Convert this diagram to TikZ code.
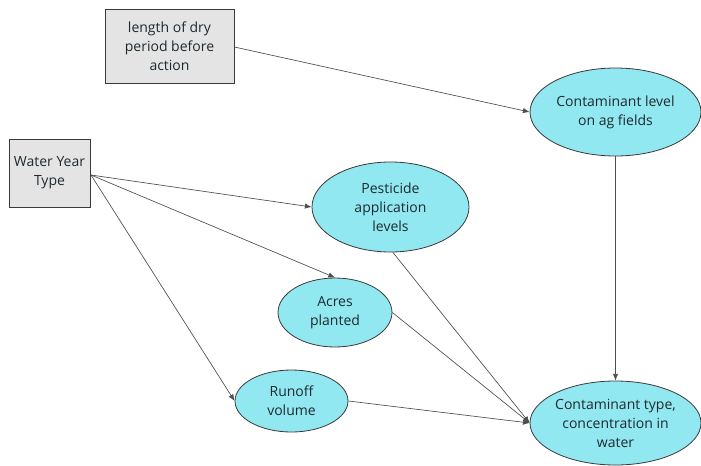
\documentclass[tikz,border=0pt]{standalone}
\usepackage{fontspec}
\setmainfont{Open Sans}
\usetikzlibrary{shapes.geometric,arrows.meta}
\definecolor{cyanfill}{HTML}{92E8F0}
\definecolor{boxfill}{HTML}{E4E4E4}
\definecolor{edge}{HTML}{3A3A3A}
\definecolor{ink}{HTML}{1E2A30}
\begin{document}
\begin{tikzpicture}[x=0.75pt,y=-0.75pt,
  every node/.style={font=\fontsize{10.5pt}{14.3pt}\selectfont, text=ink, align=center, inner sep=0pt},
  factor/.style={draw=edge, line width=0.6pt, fill=boxfill, rectangle},
  var/.style={draw=edge, line width=0.6pt, fill=cyanfill, ellipse},
  link/.style={draw=edge!90, line width=0.5pt, -{Latex[length=5pt,width=4pt]}}]
\useasboundingbox (0,0) rectangle (701,465);

% boxes for driving conditions
\node[factor, minimum width=129*0.75pt, minimum height=74*0.75pt] (dry) at (169.5,46)
  {length of dry\\period before\\action};
\node[factor, minimum width=81*0.75pt, minimum height=68*0.75pt] (wyt) at (49.5,173)
  {Water Year\\Type};

% ellipses for intermediate and outcome variables
\node[var, minimum width=171*0.75pt, minimum height=88*0.75pt] (level) at (615.5,112)
  {Contaminant level\\on ag fields};
\node[var, minimum width=157*0.75pt, minimum height=90*0.75pt] (pest) at (390.5,207)
  {Pesticide\\application\\levels};
\node[var, minimum width=114*0.75pt, minimum height=69*0.75pt] (acres) at (335,312.5)
  {Acres\\planted};
\node[var, minimum width=113*0.75pt, minimum height=62*0.75pt] (runoff) at (291.5,401)
  {Runoff\\volume};
\node[var, minimum width=171*0.75pt, minimum height=84*0.75pt] (type) at (615.5,423)
  {Contaminant type,\\concentration in\\water};

% connectors
\coordinate (wytout) at (91,175);
\draw[link] (dry.east |- 0,47) -- (level.west);
\draw[link] (wytout) -- (pest.west);
\draw[link] (wytout) -- (acres.north);
\draw[link] (wytout) -- (runoff.west);
\draw[link] (level.south) -- (type.north);
\draw[link] (pest.-87) -- (type.west);
\draw[link] (acres.east) -- (type.west);
\draw[link] (runoff.east) -- (type.west);
\end{tikzpicture}
\end{document}
